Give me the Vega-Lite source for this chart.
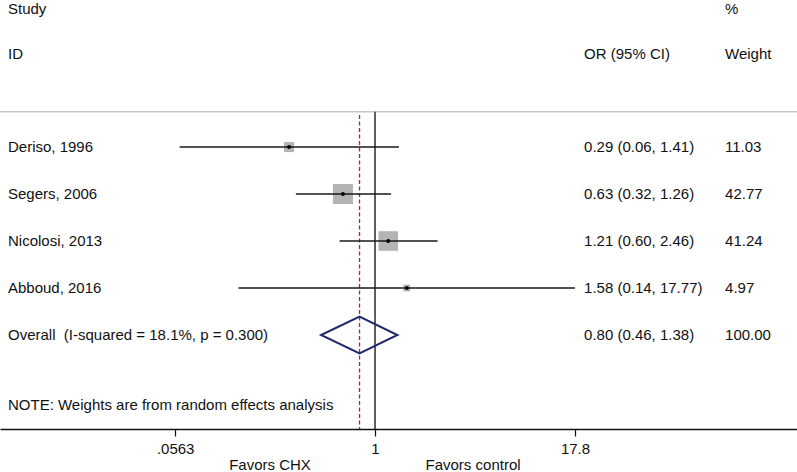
{
  "$schema": "https://vega.github.io/schema/vega-lite/v6.json",
  "width": 797,
  "height": 429,
  "autosize": {"type": "none"},
  "padding": {"left": 0, "top": 0, "right": 0, "bottom": 43},
  "background": "white",
  "config": {
    "view": {"stroke": null},
    "font": "Liberation Sans",
    "text": {"font": "Liberation Sans", "fontSize": 15, "color": "#111111", "baseline": "middle"}
  },
  "datasets": {
    "forest": [
      {"label": "Deriso, 1996", "kind": "study", "row": 3, "or": 0.29, "lo": 0.06, "hi": 1.41, "ci": "0.29 (0.06, 1.41)", "weight": 11.03},
      {"label": "Segers, 2006", "kind": "study", "row": 4, "or": 0.63, "lo": 0.32, "hi": 1.26, "ci": "0.63 (0.32, 1.26)", "weight": 42.77},
      {"label": "Nicolosi, 2013", "kind": "study", "row": 5, "or": 1.21, "lo": 0.60, "hi": 2.46, "ci": "1.21 (0.60, 2.46)", "weight": 41.24},
      {"label": "Abboud, 2016", "kind": "study", "row": 6, "or": 1.58, "lo": 0.14, "hi": 17.77, "ci": "1.58 (0.14, 17.77)", "weight": 4.97},
      {"label": "Overall\u00a0 (I-squared = 18.1%, p = 0.300)", "kind": "overall", "row": 7, "or": 0.80, "lo": 0.46, "hi": 1.38, "ci": "0.80 (0.46, 1.38)", "weight": 100.00}
    ]
  },
  "layer": [
    {
      "data": {"values": [{}]},
      "mark": {"type": "rule", "color": "#c8c8c8", "strokeWidth": 1.5},
      "encoding": {
        "y": {"datum": 2.25, "type": "quantitative", "axis": null, "scale": {"type": "linear", "domain": [-0.128, 9.0], "reverse": true, "nice": false, "zero": false}}
      }
    },
    {
      "data": {"values": [{}]},
      "mark": {"type": "rule", "color": "#444444", "strokeWidth": 1.7},
      "encoding": {
        "x": {"datum": 1, "type": "quantitative", "title": null, "scale": {"type": "log", "domain": [0.00452, 434.8], "nice": false},
          "axis": {"values": [0.0563, 1, 17.8], "format": "~g", "labelExpr": "slice(datum.label, datum.value < 1 ? 1 : 0)", "grid": false, "title": null, "domainColor": "#111111", "domainWidth": 1.5, "tickColor": "#111111", "tickWidth": 1.2, "tickSize": 7, "labelFont": "Liberation Sans", "labelFontSize": 15, "labelColor": "#111111", "labelPadding": 5, "labelFlush": false, "labelOverlap": false}},
        "y": {"datum": 2.25, "type": "quantitative", "axis": null},
        "y2": {"datum": 9.0}
      }
    },
    {
      "data": {"name": "forest"},
      "transform": [{"filter": "datum.kind == 'overall'"}],
      "mark": {"type": "rule", "color": "#a02c3c", "strokeWidth": 1.3, "strokeDash": [4, 2.5]},
      "encoding": {
        "x": {"field": "or", "type": "quantitative", "title": null},
        "y": {"datum": 2.32, "type": "quantitative", "axis": null},
        "y2": {"datum": 9.0}
      }
    },
    {
      "data": {"name": "forest"},
      "transform": [{"filter": "datum.kind == 'study'"}],
      "mark": {"type": "square", "color": "#b4b4b4", "opacity": 1, "filled": true},
      "encoding": {
        "x": {"field": "or", "type": "quantitative", "title": null},
        "y": {"field": "row", "type": "quantitative", "axis": null},
        "size": {"field": "weight", "type": "quantitative", "legend": null, "scale": {"type": "linear", "domain": [0, 100], "range": [0, 935]}}
      }
    },
    {
      "data": {"name": "forest"},
      "transform": [{"filter": "datum.kind == 'study'"}],
      "mark": {"type": "rule", "color": "#1a1a1a", "strokeWidth": 1.7},
      "encoding": {
        "x": {"field": "lo", "type": "quantitative", "title": null},
        "x2": {"field": "hi"},
        "y": {"field": "row", "type": "quantitative", "axis": null}
      }
    },
    {
      "data": {"name": "forest"},
      "transform": [{"filter": "datum.kind == 'study'"}],
      "mark": {"type": "circle", "color": "#000000", "size": 15, "opacity": 1},
      "encoding": {
        "x": {"field": "or", "type": "quantitative", "title": null},
        "y": {"field": "row", "type": "quantitative", "axis": null}
      }
    },
    {
      "data": {"name": "forest"},
      "transform": [
        {"filter": "datum.kind == 'overall'"},
        {"fold": ["lo", "or", "hi"], "as": ["vertex", "xv"]},
        {"calculate": "datum.vertex == 'or' ? 0.39 : 0", "as": "half"},
        {"calculate": "datum.row - datum.half", "as": "ytop"},
        {"calculate": "datum.row + datum.half", "as": "ybot"}
      ],
      "mark": {"type": "area", "fillOpacity": 0, "stroke": "#1f2a6e", "strokeWidth": 2, "interpolate": "linear"},
      "encoding": {
        "x": {"field": "xv", "type": "quantitative", "title": null},
        "y": {"field": "ytop", "type": "quantitative", "axis": null},
        "y2": {"field": "ybot"}
      }
    },
    {
      "data": {"name": "forest"},
      "mark": {"type": "text", "align": "left"},
      "encoding": {
        "x": {"datum": 0.00507, "type": "quantitative", "title": null},
        "y": {"field": "row", "type": "quantitative", "axis": null},
        "text": {"field": "label"}
      }
    },
    {
      "data": {"name": "forest"},
      "mark": {"type": "text", "align": "left"},
      "encoding": {
        "x": {"datum": 20.27, "type": "quantitative", "title": null},
        "y": {"field": "row", "type": "quantitative", "axis": null},
        "text": {"field": "ci"}
      }
    },
    {
      "data": {"name": "forest"},
      "mark": {"type": "text", "align": "left"},
      "encoding": {
        "x": {"datum": 154.3, "type": "quantitative", "title": null},
        "y": {"field": "row", "type": "quantitative", "axis": null},
        "text": {"field": "weight", "format": ".2f"}
      }
    },
    {
      "data": {"values": [{}]},
      "mark": {"type": "text", "align": "left", "text": "Study"},
      "encoding": {
        "x": {"datum": 0.00507, "type": "quantitative", "title": null},
        "y": {"datum": 0.06, "type": "quantitative", "axis": null}
      }
    },
    {
      "data": {"values": [{}]},
      "mark": {"type": "text", "align": "left", "text": "ID"},
      "encoding": {
        "x": {"datum": 0.00507, "type": "quantitative", "title": null},
        "y": {"datum": 1.02, "type": "quantitative", "axis": null}
      }
    },
    {
      "data": {"values": [{}]},
      "mark": {"type": "text", "align": "left", "text": "%"},
      "encoding": {
        "x": {"datum": 154.3, "type": "quantitative", "title": null},
        "y": {"datum": 0.06, "type": "quantitative", "axis": null}
      }
    },
    {
      "data": {"values": [{}]},
      "mark": {"type": "text", "align": "left", "text": "OR (95% CI)"},
      "encoding": {
        "x": {"datum": 20.27, "type": "quantitative", "title": null},
        "y": {"datum": 1.02, "type": "quantitative", "axis": null}
      }
    },
    {
      "data": {"values": [{}]},
      "mark": {"type": "text", "align": "left", "text": "Weight"},
      "encoding": {
        "x": {"datum": 154.3, "type": "quantitative", "title": null},
        "y": {"datum": 1.02, "type": "quantitative", "axis": null}
      }
    },
    {
      "data": {"values": [{}]},
      "mark": {"type": "text", "align": "left", "text": "NOTE: Weights are from random effects analysis"},
      "encoding": {
        "x": {"datum": 0.00507, "type": "quantitative", "title": null},
        "y": {"datum": 8.49, "type": "quantitative", "axis": null}
      }
    },
    {
      "data": {"values": [{}]},
      "mark": {"type": "text", "align": "center", "text": "Favors CHX"},
      "encoding": {
        "x": {"datum": 0.2205, "type": "quantitative", "title": null},
        "y": {"datum": 9.76, "type": "quantitative", "axis": null}
      }
    },
    {
      "data": {"values": [{}]},
      "mark": {"type": "text", "align": "center", "text": "Favors control"},
      "encoding": {
        "x": {"datum": 4.1, "type": "quantitative", "title": null},
        "y": {"datum": 9.76, "type": "quantitative", "axis": null}
      }
    }
  ]
}
